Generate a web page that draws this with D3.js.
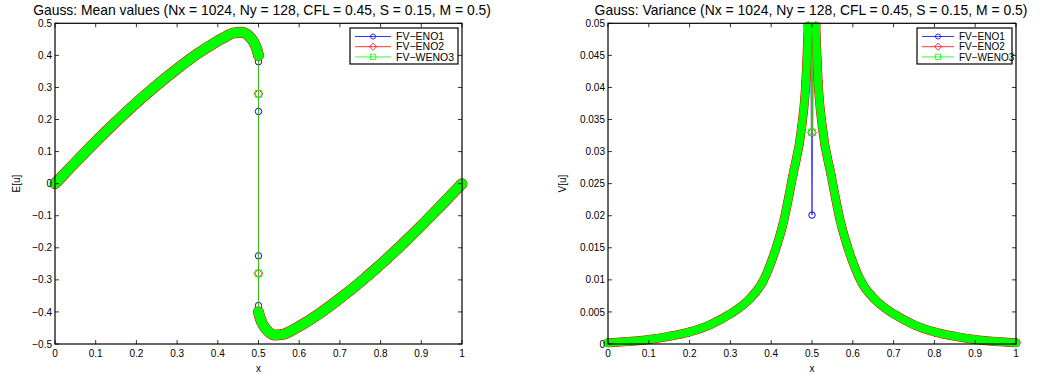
<!DOCTYPE html>
<html><head><meta charset="utf-8">
<script src="https://cdn.jsdelivr.net/npm/d3@7"></script>
<style>body{margin:0;background:#fff} text{font-family:"Liberation Sans",Arial,Helvetica,sans-serif;fill:#000}</style>
</head><body><svg id="c" width="1064" height="377"></svg>
<script>
// ---------- DATA ----------
const seriesNames = ["FV\u2212ENO1", "FV\u2212ENO2", "FV\u2212WENO3"];
const xTicks = [0, 0.1, 0.2, 0.3, 0.4, 0.5, 0.6, 0.7, 0.8, 0.9, 1];
const meanTicks = [-0.5, -0.4, -0.3, -0.2, -0.1, 0, 0.1, 0.2, 0.3, 0.4, 0.5];
const varTicks = [0, 0.005, 0.01, 0.015, 0.02, 0.025, 0.03, 0.035, 0.04, 0.045, 0.05];

// Mean values: smooth part left of the shock
const meanLeftX = [0, 0.05, 0.1, 0.15, 0.2, 0.25, 0.3, 0.35, 0.4, 0.42, 0.44, 0.46, 0.475, 0.485, 0.492, 0.497, 0.5];
const meanLeftE = [0, 0.066, 0.131, 0.193, 0.252, 0.307, 0.358, 0.405, 0.445, 0.459, 0.47, 0.472, 0.462, 0.448, 0.432, 0.415, 0.40];
// smooth part right of the shock
const meanRightX = [0.5, 0.503, 0.508, 0.515, 0.525, 0.54, 0.56, 0.58, 0.6, 0.65, 0.7, 0.75, 0.8, 0.85, 0.9, 0.95, 1];
const meanRightE = [-0.40, -0.415, -0.432, -0.448, -0.462, -0.472, -0.47, -0.459, -0.445, -0.405, -0.358, -0.307, -0.252, -0.193, -0.131, -0.066, 0];
// values inside the shock at x = 0.5
const meanShockENO1 = [0.38, 0.225, -0.225, -0.38];
const meanShockENO2 = [0.28, -0.28];
const meanShockWENO3 = [0.28, -0.28];

// Variance
const varLeftX = [0, 0.05, 0.1, 0.15, 0.2, 0.25, 0.3, 0.345, 0.38, 0.41, 0.43, 0.453, 0.475, 0.485, 0.4905, 0.495];
const varLeftV = [0.0002, 0.0004, 0.0007, 0.0012, 0.0019, 0.003, 0.0047, 0.0069, 0.0098, 0.0146, 0.019, 0.0263, 0.034, 0.041, 0.0496, 0.06];
const varRightX = [0.505, 0.5095, 0.515, 0.525, 0.547, 0.57, 0.59, 0.62, 0.655, 0.7, 0.75, 0.8, 0.85, 0.9, 0.95, 1];
const varRightV = [0.06, 0.0496, 0.041, 0.034, 0.0263, 0.019, 0.0146, 0.0098, 0.0069, 0.0047, 0.003, 0.0019, 0.0012, 0.0007, 0.0004, 0.0002];
// variance in the shock cell x = 0.5
const varCenterENO1 = 0.0201;
const varCenterENO2 = 0.033;
const varCenterWENO3 = 0.033;

// ---------- STYLE ----------
const colors = ["#0000ff", "#ff0000", "#00ff00"];
const markers = ["circle", "diamond", "square"];

const svg = d3.select("#c");
const zip = (xs, ys) => xs.map((x, i) => [x, ys[i]]);

function markerPath(type) {
  if (type === "circle") return d3.symbol(d3.symbolCircle, Math.PI * 3.2 * 3.2)();
  if (type === "square") return "M-3.3,-3.3H3.3V3.3H-3.3Z";
  return "M0,-4.4L4.4,0L0,4.4L-4.4,0Z";
}

function drawAxes(g, x, y, yTicks, yFmt, title, ylabX, ylab, titleX) {
  const [x0, x1] = x.range(), [y0, y1] = y.range();
  const tl = 4;
  const tk = g.append("g").attr("stroke", "#000").attr("stroke-width", 0.8);
  xTicks.forEach(t => {
    const px = x(t);
    tk.append("line").attr("x1", px).attr("x2", px).attr("y1", y0).attr("y2", y0 - tl);
    tk.append("line").attr("x1", px).attr("x2", px).attr("y1", y1).attr("y2", y1 + tl);
    g.append("text").attr("x", px).attr("y", y0 + 12.5).attr("text-anchor", "middle")
      .attr("font-size", 10).text(t === 0 ? "0" : (t === 1 ? "1" : d3.format(".1f")(t)));
  });
  yTicks.forEach(t => {
    const py = y(t);
    tk.append("line").attr("x1", x0).attr("x2", x0 + tl).attr("y1", py).attr("y2", py);
    tk.append("line").attr("x1", x1).attr("x2", x1 - tl).attr("y1", py).attr("y2", py);
    g.append("text").attr("x", x0 - 3).attr("y", py + 3.6).attr("text-anchor", "end")
      .attr("font-size", 10).text(yFmt(t));
  });
  g.append("rect").attr("x", x0).attr("y", y1).attr("width", x1 - x0).attr("height", y0 - y1)
    .attr("fill", "none").attr("stroke", "#000").attr("stroke-width", 1.2);
  g.append("text").attr("x", titleX).attr("y", 14.5).attr("text-anchor", "middle")
    .attr("font-size", 13.9).text(title);
  g.append("text").attr("x", (x0 + x1) / 2).attr("y", 372).attr("text-anchor", "middle")
    .attr("font-size", 10).text("x");
  g.append("text").attr("transform", `translate(${ylabX},${(y0 + y1) / 2}) rotate(-90)`)
    .attr("text-anchor", "middle").attr("font-size", 10).text(ylab);
}

function drawLegend(g, bx, by, bw, bh, lineLen, fs) {
  g.append("rect").attr("x", bx).attr("y", by).attr("width", bw).attr("height", bh)
    .attr("fill", "#fff").attr("stroke", "#000").attr("stroke-width", 1.2);
  seriesNames.forEach((n, i) => {
    const yy = by + 8.5 + i * 10.2;
    g.append("line").attr("x1", bx + 5).attr("x2", bx + 5 + lineLen).attr("y1", yy).attr("y2", yy)
      .attr("stroke", colors[i]).attr("stroke-width", 0.8);
    g.append("path").attr("d", markerPath(markers[i])).attr("transform", `translate(${bx + 5 + lineLen / 2},${yy}) scale(0.8)`)
      .attr("fill", "none").attr("stroke", colors[i]).attr("stroke-width", 1);
    g.append("text").attr("x", bx + 10 + lineLen).attr("y", yy + 3.6).attr("font-size", fs).text(n);
  });
}

function drawSeries(g, x, y, branches, allPts, i, bw, clipId, yMax) {
  const sg = g.append("g");
  if (clipId) sg.attr("clip-path", `url(#${clipId})`);
  const band = d3.line().x(d => x(d[0])).y(d => y(d[1])).curve(d3.curveMonotoneX);
  branches.forEach(b => {
    sg.append("path").attr("d", band(b)).attr("fill", "none").attr("stroke", colors[i])
      .attr("stroke-width", bw).attr("stroke-linecap", "round").attr("stroke-linejoin", "round");
  });
  const lin = d3.line().x(d => x(d[0])).y(d => y(d[1]));
  sg.append("path").attr("d", lin(allPts)).attr("fill", "none").attr("stroke", colors[i]).attr("stroke-width", 0.7);
  const mp = markerPath(markers[i]);
  g.append("g").selectAll("path").data(allPts.filter(d => yMax === undefined || d[1] <= yMax)).join("path")
    .attr("d", mp).attr("transform", d => `translate(${x(d[0])},${y(d[1])})`)
    .attr("fill", "none").attr("stroke", colors[i]).attr("stroke-width", 1);
}

// ---------- LEFT: mean ----------
{
  const g = svg.append("g");
  const x = d3.scaleLinear().domain([0, 1]).range([55, 462]);
  const y = d3.scaleLinear().domain([-0.5, 0.5]).range([344, 23.3]);
  const left = zip(meanLeftX, meanLeftE), right = zip(meanRightX, meanRightE);
  const shocks = [meanShockENO1, meanShockENO2, meanShockWENO3];
  const widths = [10, 11, 10];
  shocks.forEach((s, i) => {
    const pts = left.concat(s.map(v => [0.5, v]), right);
    drawSeries(g, x, y, [left, right], pts, i, widths[i]);
  });
  drawAxes(g, x, y, meanTicks, t => t === 0 ? "0" : d3.format(".1f")(t).replace("-", "\u2212"),
    "Gauss: Mean values (Nx = 1024, Ny = 128, CFL = 0.45, S = 0.15, M = 0.5)", 20, "E[u]", 262);
  drawLegend(g, 350, 28, 108, 36, 36, 10.5);
}

// ---------- RIGHT: variance ----------
{
  const g = svg.append("g");
  const x = d3.scaleLinear().domain([0, 1]).range([608, 1016]);
  const y = d3.scaleLinear().domain([0, 0.05]).range([344, 23.3]);
  svg.append("defs").append("clipPath").attr("id", "clipR").append("rect")
    .attr("x", 590).attr("y", 23.3).attr("width", 445).attr("height", 340);
  const left = zip(varLeftX, varLeftV), right = zip(varRightX, varRightV);
  const centers = [varCenterENO1, varCenterENO2, varCenterWENO3];
  const widths = [8, 9, 8];
  centers.forEach((c, i) => {
    const pts = left.concat([[0.5, c]], right);
    drawSeries(g, x, y, [left, right], pts, i, widths[i], "clipR", 0.05);
  });
  drawAxes(g, x, y, varTicks, t => t === 0 ? "0" : d3.format("")(+t.toFixed(3)),
    "Gauss: Variance (Nx = 1024, Ny = 128, CFL = 0.45, S = 0.15, M = 0.5)", 566, "V[u]", 811);
  drawLegend(g, 917, 28, 95, 36, 32, 10);
}
</script></body></html>
